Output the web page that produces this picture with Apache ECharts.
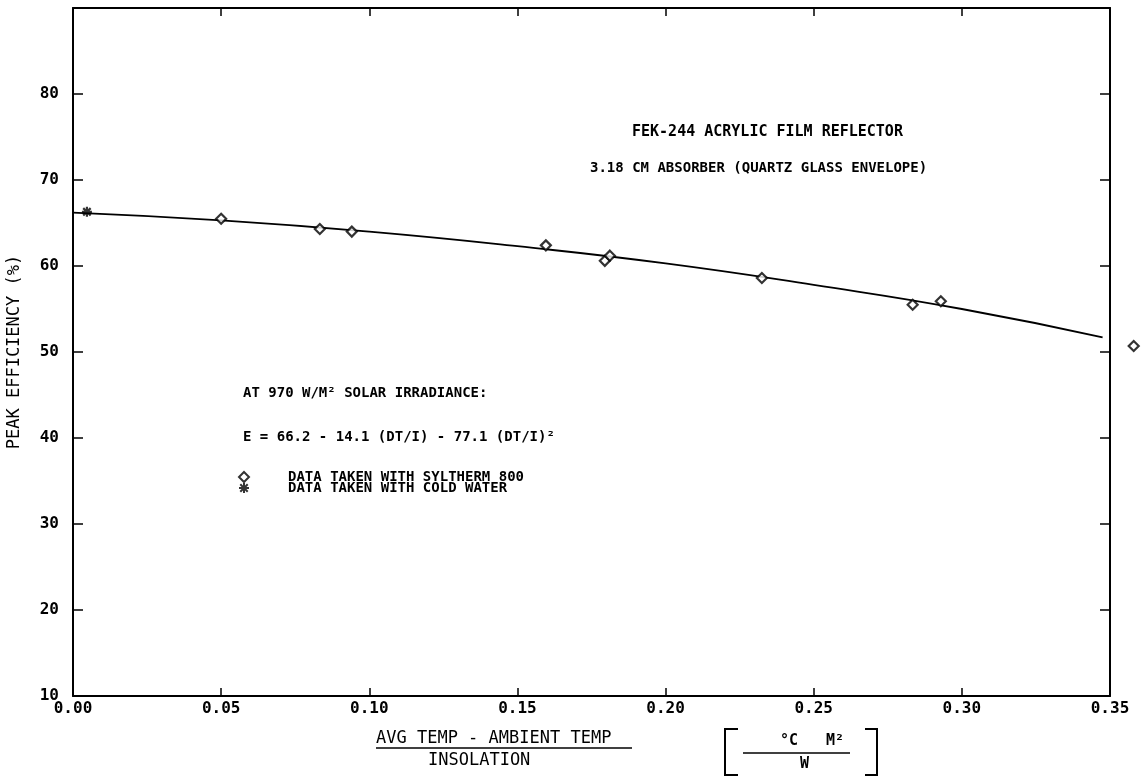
<!DOCTYPE html>
<html>
<head>
<meta charset="utf-8">
<script src="https://cdn.jsdelivr.net/npm/echarts@6/dist/echarts.min.js"></script>
<style>html,body{margin:0;padding:0;background:#fff}#c{width:1143px;height:776px}</style>
</head>
<body>
<div id="c"></div>
<script>
// Fitted curve
const fitX = [0.000, 0.050, 0.100, 0.150, 0.200, 0.250, 0.300, 0.3475];
const fitY = [66.2, 65.3, 64.0, 62.3, 60.3, 57.8, 55.0, 51.7];
// Data taken with Syltherm 800 (diamonds)
const sylX = [0.050, 0.0833, 0.0941, 0.1596, 0.1795, 0.1812, 0.2325, 0.2834, 0.2929, 0.358];
const sylY = [65.5, 64.3, 64.0, 62.4, 60.6, 61.2, 58.6, 55.5, 55.9, 50.7];
// Data taken with cold water (asterisk)
const waterX = [0.0047];
const waterY = [66.3];
// Tick setup
const xTicks = {min: 0, max: 0.35, step: 0.05};
const yTicks = {min: 10, max: 90, step: 10};

const seriesNames = ['DATA TAKEN WITH SYLTHERM 800', 'DATA TAKEN WITH COLD WATER'];
const titleLines = ['FEK-244 ACRYLIC FILM REFLECTOR', '3.18 CM ABSORBER (QUARTZ GLASS ENVELOPE)'];
const noteLines = ['AT 970 W/M² SOLAR IRRADIANCE:', 'E = 66.2 - 14.1 (DT/I) - 77.1 (DT/I)²'];

const zip = (a, b) => a.map((v, i) => [v, b[i]]);
const MONO = '"DejaVu Sans Mono", "Liberation Mono", monospace';
const asterisk = 'path://M5,0 L5,10 M0,5 L10,5 M1.3,1.3 L8.7,8.7 M8.7,1.3 L1.3,8.7';

const chart = echarts.init(document.getElementById('c'), null, {renderer: 'canvas'});
const axisLine = {show: true, onZero: false, lineStyle: {color: '#000', width: 2}};
const tickStyle = {color: '#000', width: 1.5};
chart.setOption({
  backgroundColor: '#fff',
  animation: false,
  grid: {left: 73, right: 33, top: 8, bottom: 80, containLabel: false, outerBoundsMode: 'none'},
  xAxis: [
    {type: 'value', position: 'bottom', min: xTicks.min, max: xTicks.max, interval: xTicks.step,
     axisLine: axisLine, axisTick: {inside: true, length: 8, lineStyle: tickStyle},
     splitLine: {show: false},
     axisLabel: {color: '#000', fontFamily: MONO, fontWeight: 'bold', fontSize: 16, margin: 5,
                 formatter: v => v.toFixed(2)}},
    {type: 'value', position: 'top', min: xTicks.min, max: xTicks.max, interval: xTicks.step,
     axisLine: axisLine, axisTick: {inside: true, length: 8, lineStyle: tickStyle},
     splitLine: {show: false}, axisLabel: {show: false}}
  ],
  yAxis: [
    {type: 'value', position: 'left', min: yTicks.min, max: yTicks.max, interval: yTicks.step,
     axisLine: axisLine, axisTick: {inside: true, length: 10, lineStyle: tickStyle},
     splitLine: {show: false},
     axisLabel: {color: '#000', fontFamily: MONO, fontWeight: 'bold', fontSize: 16, margin: 14,
                 formatter: v => (v >= yTicks.max ? '' : String(v))},
     name: 'PEAK EFFICIENCY (%)', nameLocation: 'middle', nameGap: 50, nameRotate: 90,
     nameTextStyle: {color: '#000', fontFamily: MONO, fontSize: 17}},
    {type: 'value', position: 'right', min: yTicks.min, max: yTicks.max, interval: yTicks.step,
     axisLine: axisLine, axisTick: {inside: true, length: 10, lineStyle: tickStyle},
     splitLine: {show: false}, axisLabel: {show: false}}
  ],
  legend: {
    data: seriesNames, orient: 'vertical', left: 238, top: 470,
    itemWidth: 10, itemHeight: 10, itemGap: -3, padding: 0,
    textStyle: {color: '#000', fontFamily: MONO, fontWeight: 'bold', fontSize: 14, padding: [0, 0, 0, 34]}
  },
  series: [
    {name: 'fit', type: 'line', data: zip(fitX, fitY), smooth: true, showSymbol: false,
     lineStyle: {color: '#000', width: 1.8}, silent: true, z: 2},
    {name: seriesNames[0], type: 'scatter', data: zip(sylX, sylY), symbol: 'diamond', symbolSize: 10,
     clip: false, itemStyle: {color: '#fff', borderColor: '#000', borderWidth: 2.2}, z: 3},
    {name: seriesNames[1], type: 'scatter', data: zip(waterX, waterY), symbol: asterisk, symbolSize: 10,
     clip: false, itemStyle: {color: 'rgba(0,0,0,0)', borderColor: '#000', borderWidth: 2.2}, z: 3}
  ],
  graphic: [
    {type: 'text', left: 632, top: 125, style: {text: titleLines[0], fill: '#000', font: 'bold 15px ' + MONO}},
    {type: 'text', left: 590, top: 161, style: {text: titleLines[1], fill: '#000', font: 'bold 14px ' + MONO}},
    {type: 'text', left: 243, top: 386, style: {text: noteLines[0], fill: '#000', font: 'bold 14px ' + MONO}},
    {type: 'text', left: 243, top: 430, style: {text: noteLines[1], fill: '#000', font: 'bold 14px ' + MONO}},
    // x-axis title (fraction)
    {type: 'text', left: 376, top: 730, style: {text: 'AVG TEMP - AMBIENT TEMP', fill: '#000', font: '17px ' + MONO}},
    {type: 'line', shape: {x1: 376, y1: 748, x2: 632, y2: 748}, style: {stroke: '#000', lineWidth: 1.5}},
    {type: 'text', left: 428, top: 752, style: {text: 'INSOLATION', fill: '#000', font: '17px ' + MONO}},
    // units bracket
    {type: 'polyline', shape: {points: [[738, 729], [725, 729], [725, 775], [738, 775]]}, style: {stroke: '#000', fill: null, lineWidth: 2}},
    {type: 'polyline', shape: {points: [[865, 729], [877, 729], [877, 775], [865, 775]]}, style: {stroke: '#000', fill: null, lineWidth: 2}},
    {type: 'line', shape: {x1: 743, y1: 753, x2: 850, y2: 753}, style: {stroke: '#000', lineWidth: 1.5}},
    {type: 'text', left: 780, top: 734, style: {text: '°C', fill: '#000', font: 'bold 15px ' + MONO}},
    {type: 'text', left: 826, top: 734, style: {text: 'M²', fill: '#000', font: 'bold 15px ' + MONO}},
    {type: 'text', left: 800, top: 757, style: {text: 'W', fill: '#000', font: 'bold 15px ' + MONO}}
  ]
});
</script>
</body>
</html>
